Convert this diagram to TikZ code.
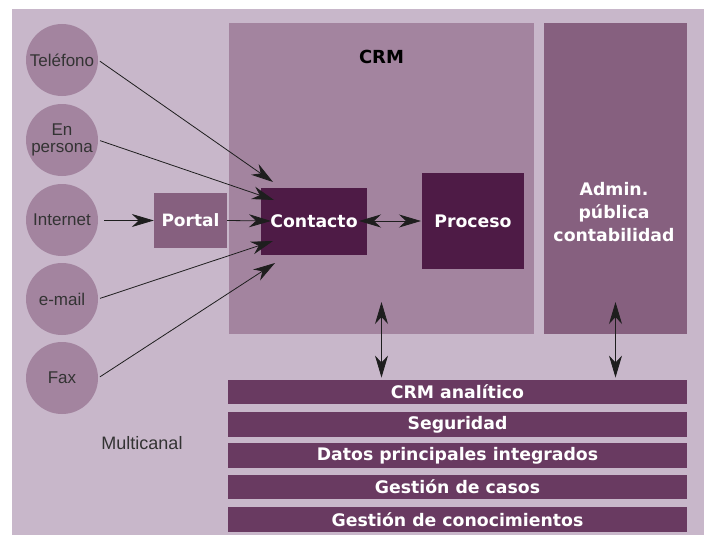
\documentclass[tikz,border=0pt]{standalone}
\usepackage{fontspec}
\setmainfont{Liberation Sans}
\newfontfamily\bfam{DejaVu Sans}
\usetikzlibrary{arrows.meta}
\definecolor{bgc}{HTML}{C8B7CA}
\definecolor{circc}{HTML}{A3849F}
\definecolor{crmc}{HTML}{A3849F}
\definecolor{adminc}{HTML}{86607F}
\definecolor{darkc}{HTML}{4E1B46}
\definecolor{barc}{HTML}{693A61}
\definecolor{arrc}{HTML}{1E1E1E}
\definecolor{txtg}{HTML}{333333}
\tikzset{
  circ/.style={circle, fill=circc, minimum size=72pt, inner sep=0pt, text=txtg, align=center,
    font=\fontsize{17}{17.5}\selectfont},
  darkbox/.style={fill=darkc, text=white, inner sep=0pt, font=\bfam\bfseries\fontsize{17.3}{20}\selectfont},
  barbox/.style={fill=barc, text=white, inner sep=0pt, minimum width=459pt, minimum height=24.5pt,
    font=\bfam\bfseries\fontsize{17.3}{20}\selectfont},
  arr/.style={draw=arrc, line width=0.8pt, -{Stealth[length=22pt,width=13pt,inset=7pt]}},
  darr/.style={draw=arrc, line width=0.8pt, {Stealth[length=22pt,width=13pt,inset=7pt]}-{Stealth[length=22pt,width=13pt,inset=7pt]}},
}
\begin{document}
\begin{tikzpicture}[x=1pt,y=-1pt]
\useasboundingbox (0,0) rectangle (704,535);
\fill[white] (0,0) rectangle (704,535);
\fill[bgc] (12,9) rectangle (704,535);
% big boxes
\node[fill=crmc, minimum width=305pt, minimum height=311pt, inner sep=0pt] (crm) at (381.5,178.5) {};
\node[font=\bfam\bfseries\fontsize{18}{20}\selectfont, text=black] (crmlabel) at (381.5,57) {CRM};
\node[fill=adminc, minimum width=143pt, minimum height=311pt, inner sep=0pt] (admin) at (615.5,178.5) {};
\node[text=white, align=center, inner sep=0pt,
  font=\bfam\bfseries\fontsize{17.3}{23}\selectfont] (admintext) at (614,212) {Admin.\\pública\\contabilidad};
% circles
\node[circ] (tel) at (62,60) {Teléfono};
\node[circ] (per) at (62,140) {En\\persona};
\node[circ] (int) at (62,220) {Internet};
\node[circ] (ema) at (62,299) {e-mail};
\node[circ] (fax) at (62,378) {Fax};
\node[font=\fontsize{18}{20}\selectfont, text=txtg] (multi) at (142,443) {Multicanal};
% inner boxes
\node[fill=adminc, text=white, inner sep=0pt, minimum width=73pt, minimum height=55pt,
  font=\bfam\bfseries\fontsize{17}{20}\selectfont] (portal) at (190.5,220.5) {Portal};
\node[darkbox, minimum width=106pt, minimum height=67pt] (contacto) at (314,221.5) {Contacto};
\node[darkbox, minimum width=102pt, minimum height=96pt] (proceso) at (473,221) {Proceso};
% bars
\node[barbox] (b1) at (457.5,392) {CRM analítico};
\node[barbox] (b2) at (457.5,424.5) {Seguridad};
\node[barbox] (b3) at (457.5,455.5) {Datos principales integrados};
\node[barbox] (b4) at (457.5,487) {Gestión de casos};
\node[barbox] (b5) at (457.5,519.5) {Gestión de conocimientos};
% arrow targets
\coordinate (tTel) at (273,182);
\coordinate (tPer) at (274,200);
\coordinate (tPor) at (271,221);
\coordinate (tEma) at (273,241);
\coordinate (tFax) at (275,263);
\coordinate (cL) at (359,221);
\coordinate (cR) at (421,221);
\coordinate (crmU) at (381.5,302);
\coordinate (admU) at (615.5,302);
% connectors
\draw[arr, shorten <=2pt] (tel.east) -- (tTel);
\draw[arr, shorten <=2pt] (per.east) -- (tPer);
\draw[arr, shorten <=6pt] (int.east |- portal.west) -- (portal.west);
\draw[arr] (portal.east) -- (tPor);
\draw[arr, shorten <=2pt] (ema.east) -- (tEma);
\draw[arr, shorten <=2pt] (fax.east) -- (tFax);
\draw[darr] (cL) -- (cR);
\draw[darr, shorten >=2pt] (crmU) -- (crmU |- b1.north);
\draw[darr, shorten >=2pt] (admU) -- (admU |- b1.north);
\end{tikzpicture}
\end{document}
